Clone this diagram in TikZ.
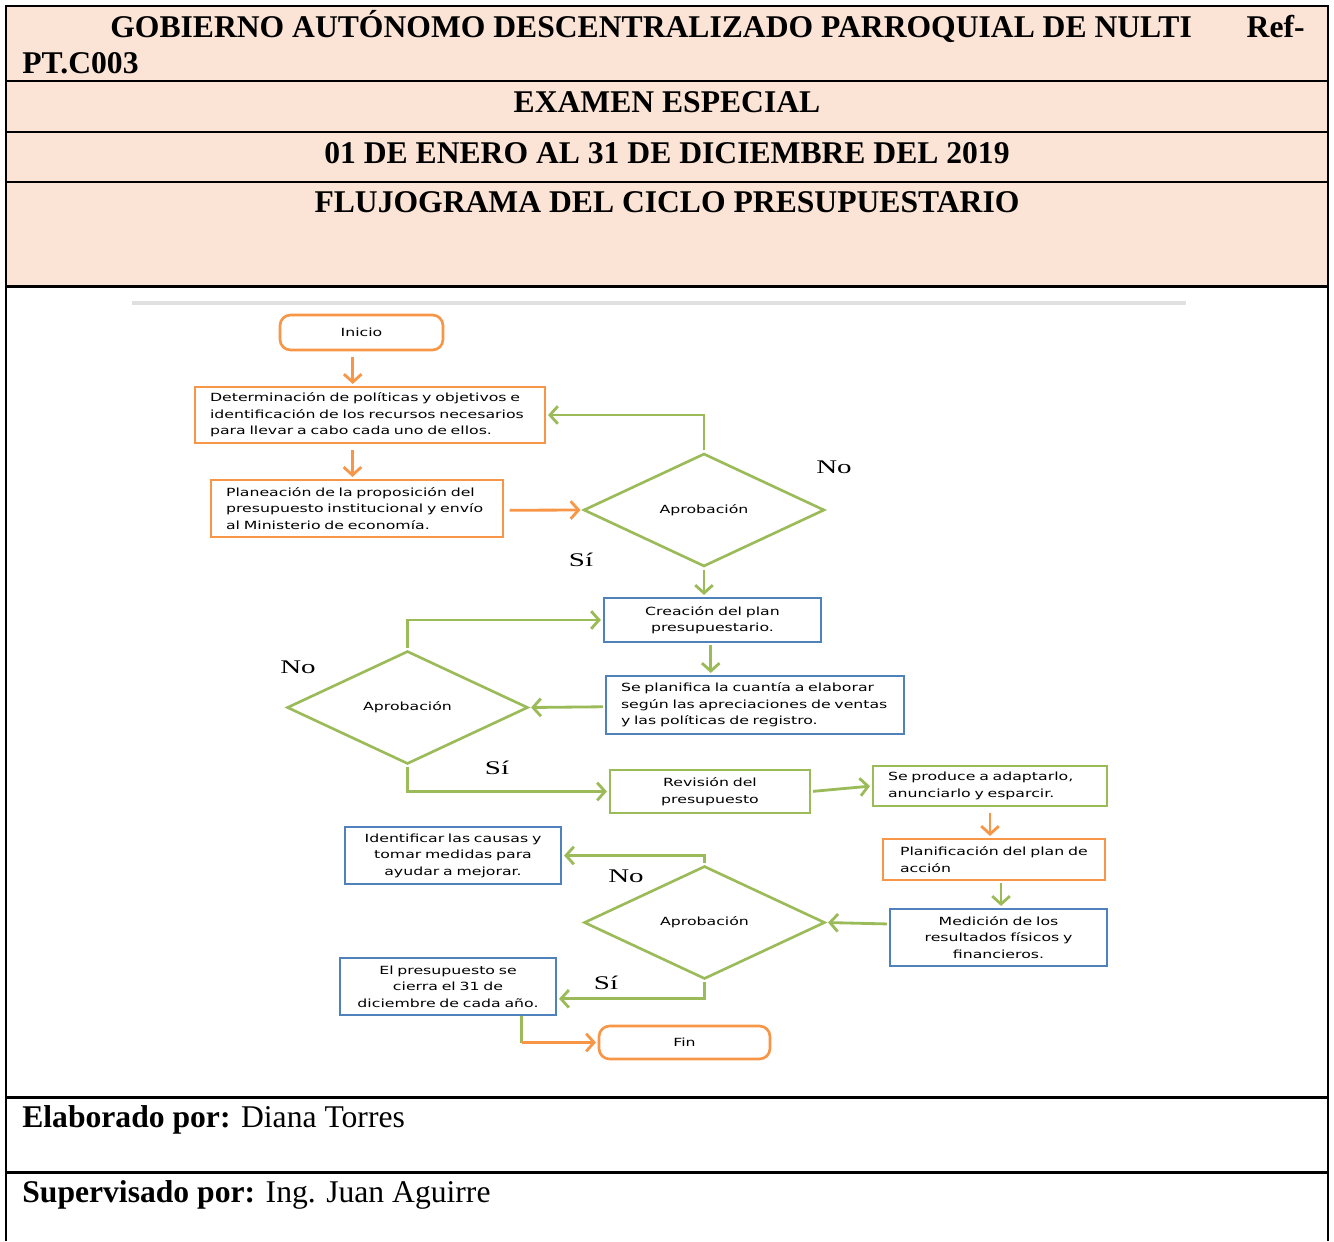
\documentclass[tikz,border=0pt]{standalone}
\usepackage{fontspec}
\setmainfont{Liberation Serif}
\newfontfamily\flowfont[FakeStretch=1.4]{DejaVu Sans}
\newfontfamily\yesnofont[FakeStretch=1.5]{Liberation Serif}
\usetikzlibrary{shapes.geometric,arrows.meta,positioning}

\definecolor{hdrfill}{HTML}{FBE4D5}
\definecolor{offorange}{HTML}{F79646}
\definecolor{offgreen}{HTML}{9BBB59}
\definecolor{offblue}{HTML}{4F81BD}

\tikzset{
  box/.style={draw, line width=1.5pt, fill=white, inner sep=2pt,
    font=\flowfont\fontsize{6.4}{9.4}\selectfont},
  orbox/.style={box, draw=offorange},
  grbox/.style={box, draw=offgreen},
  blbox/.style={box, draw=offblue},
  term/.style={orbox, rounded corners=6pt},
  decision/.style={diamond, draw=offgreen, line width=1.5pt, inner sep=0pt,
    minimum width=4.82cm, minimum height=2.26cm,
    font=\flowfont\fontsize{6.4}{9.4}\selectfont},
  orarrow/.style={draw=offorange, line width=1.6pt,
    -{Straight Barb[length=4.5pt,width=10pt]}, shorten <=3pt, shorten >=1pt},
  grarrow/.style={draw=offgreen, line width=1.6pt,
    -{Straight Barb[length=4.5pt,width=10pt]}, shorten <=1pt, shorten >=1pt},
  yesno/.style={font=\yesnofont\fontsize{11}{13}\selectfont},
  hdr/.style={font=\bfseries\fontsize{18}{21}\selectfont, inner sep=0pt},
  foot/.style={font=\fontsize{18}{21}\selectfont, inner sep=0pt}
}

\begin{document}
\begin{tikzpicture}[x=0.02cm, y=-0.02cm]
    \useasboundingbox (0,0) rectangle (1334,1241);
    % Header table
    \fill[hdrfill] (6,6) rectangle (1328,286);
    \draw[line width=1pt] (6,1241) -- (6,6) -- (1328,6) -- (1328,1241);
    \draw[line width=0.8pt] (6,81) -- (1328,81);
    \draw[line width=0.8pt] (6,132) -- (1328,132);
    \draw[line width=0.8pt] (6,182) -- (1328,182);
    \draw[line width=1.7pt] (6,286) -- (1328,286);
    \draw[line width=1.7pt] (6,1097) -- (1328,1097);
    \draw[line width=1.7pt] (6,1172) -- (1328,1172);
    \node[hdr, anchor=base west] (title) at (110,37)
        {GOBIERNO AUTÓNOMO DESCENTRALIZADO PARROQUIAL DE NULTI};
    \node[hdr, anchor=base east] (ref) at (1305,37) {Ref-};
    \node[hdr, anchor=base west] (code) at (22,73) {PT.C003};
    \node[hdr, anchor=base] (exam) at (667,112) {EXAMEN ESPECIAL};
    \node[hdr, anchor=base] (period) at (667,163) {01 DE ENERO AL 31 DE DICIEMBRE DEL 2019};
    \node[hdr, anchor=base] (flujo) at (667,212) {FLUJOGRAMA DEL CICLO PRESUPUESTARIO};
    % Footer
    \node[foot, anchor=base west] (elab) at (22,1127) {\textbf{Elaborado por:} Diana Torres};
    \node[foot, anchor=base west] (superv) at (22,1202) {\textbf{Supervisado por:} Ing. Juan Aguirre};
    % picture frame line
    \draw[black!12, line width=1.8pt] (132,303) -- (1186,303);

    % Flowchart nodes
    \node[term, minimum width=3.26cm, minimum height=0.70cm] (inicio) at (361.5,332.5) {Inicio};
    \node[orbox, minimum width=7.0cm, minimum height=1.12cm, text width=6.4cm, align=left] (det) at (370,415)
        {Determinación de políticas y objetivos e\\identificación de los recursos necesarios\\para llevar a cabo cada uno de ellos.};
    \node[orbox, minimum width=5.84cm, minimum height=1.14cm, text width=5.24cm, align=left] (plan) at (357,508.5)
        {Planeación de la proposición del\\presupuesto institucional y envío\\al Ministerio de economía.};
    \node[decision] (apr1) at (704,510) {Aprobación};
    \node[blbox, minimum width=4.34cm, minimum height=0.88cm, text width=4.0cm, align=center] (crea) at (712.5,620)
        {Creación del plan\\presupuestario.};
    \node[blbox, minimum width=5.96cm, minimum height=1.16cm, text width=5.36cm, align=left] (cuantia) at (755,705)
        {Se planifica la cuantía a elaborar\\según las apreciaciones de ventas\\y las políticas de registro.};
    \node[decision] (apr2) at (407.5,707.5) {Aprobación};
    \node[grbox, minimum width=4.0cm, minimum height=0.86cm, text width=3.6cm, align=center] (rev) at (710,791.5)
        {Revisión del\\presupuesto};
    \node[grbox, minimum width=4.68cm, minimum height=0.80cm, text width=4.08cm, align=left] (prod) at (990,786)
        {Se produce a adaptarlo,\\anunciarlo y esparcir.};
    \node[orbox, minimum width=4.44cm, minimum height=0.82cm, text width=3.76cm, align=left] (accion) at (994,859.5)
        {Planificación del plan de\\acción};
    \node[blbox, minimum width=4.34cm, minimum height=1.14cm, text width=4.0cm, align=center] (med) at (998.5,937.5)
        {Medición de los\\resultados físicos y\\financieros.};
    \node[decision] (apr3) at (704.5,922.5) {Aprobación};
    \node[blbox, minimum width=4.32cm, minimum height=1.14cm, text width=4.0cm, align=center] (ident) at (453,855.5)
        {Identificar las causas y\\tomar medidas para\\ayudar a mejorar.};
    \node[blbox, minimum width=4.32cm, minimum height=1.14cm, text width=4.0cm, align=center] (cierre) at (448,986.5)
        {El presupuesto se\\cierra el 31 de\\diciembre de cada año.};
    \node[term, minimum width=3.42cm, minimum height=0.66cm] (fin) at (684.5,1042.5) {Fin};

    % Decision labels
    \node[yesno] (no1) at (834,467) {No};
    \node[yesno] (si1) at (581,560) {Sí};
    \node[yesno] (no2) at (298,667) {No};
    \node[yesno] (si2) at (497,768) {Sí};
    \node[yesno] (no3) at (626,876) {No};
    \node[yesno] (si3) at (606,983) {Sí};

    % Connectors
    \draw[orarrow] ([xshift=-5pt]inicio.south) -- ([xshift=-5pt]inicio.south |- det.north);
    \draw[orarrow] ([xshift=-10pt]det.south) -- ([xshift=-10pt]det.south |- plan.north);
    \draw[orarrow] ([yshift=-1pt]plan.east) -- (apr1.west);
    \draw[grarrow] (apr1.north) |- (det.east);
    \draw[grarrow] (apr1.south) -- (apr1.south |- crea.north);
    \draw[grarrow] ([xshift=-1pt]crea.south) -- ([xshift=-1pt]crea.south |- cuantia.north);
    \draw[grarrow] ([yshift=-1pt]cuantia.west) -- (apr2.east);
    \draw[grarrow] (apr2.north) |- (crea.west);
    \draw[grarrow] (apr2.south) |- (rev.west);
    \draw[grarrow] (rev.east) -- (prod.west);
    \draw[orarrow] (prod.south) -- (prod.south |- accion.north);
    \draw[grarrow] ([xshift=4pt]accion.south) -- ([xshift=4pt]accion.south |- med.north);
    \draw[grarrow] ([yshift=7.7pt]med.west) -- (apr3.east);
    \draw[grarrow] (apr3.north) |- (ident.east);
    \draw[grarrow] (apr3.south) |- ([yshift=-7pt]cierre.east);
    \draw[draw=offgreen, line width=1.6pt] ([xshift=42pt]cierre.south) -- ([xshift=42pt]cierre.south |- fin.west) coordinate (cfin);
    \draw[orarrow, shorten <=0pt] (cfin) -- (fin.west);
\end{tikzpicture}
\end{document}
